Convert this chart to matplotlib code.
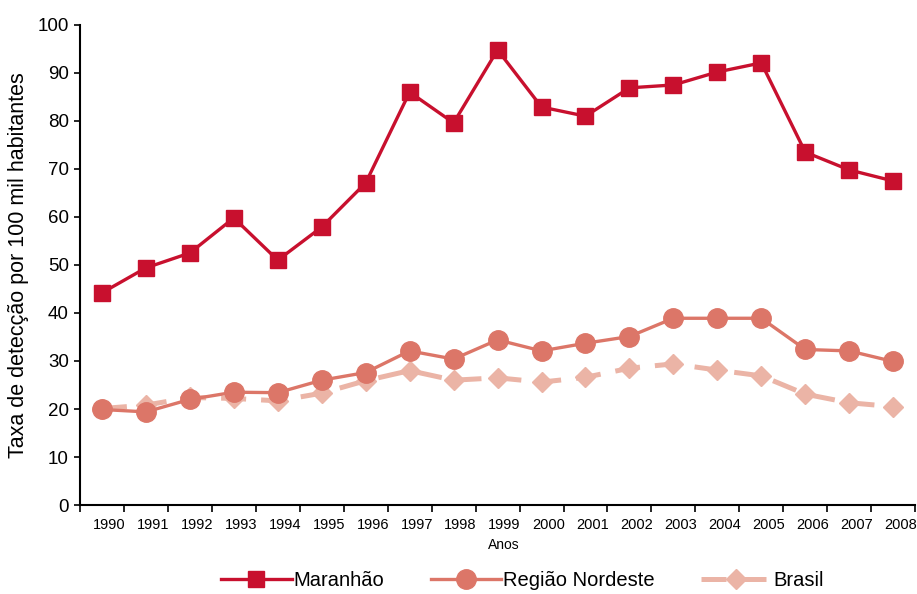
import matplotlib
matplotlib.use("Agg")
import matplotlib.pyplot as plt
import matplotlib.transforms as mtransforms
import numpy as np

plt.rcParams['font.family'] = ['Liberation Sans', 'DejaVu Sans']

anos = [str(a) for a in range(1990, 2009)]
maranhao = [44.2, 49.4, 52.5, 59.8, 51.0, 57.9, 67.1, 86.0, 79.6, 94.8,
            82.9, 81.0, 86.9, 87.5, 90.2, 92.1, 73.5, 69.8, 67.5]
nordeste = [19.9, 19.4, 22.0, 23.5, 23.4, 26.0, 27.6, 32.1, 30.4, 34.4,
            32.1, 33.7, 35.1, 38.9, 38.9, 38.9, 32.4, 32.1, 29.9]
brasil = [20.1, 20.8, 22.4, 22.2, 21.7, 23.3, 25.9, 28.0, 26.0, 26.5,
          25.6, 26.6, 28.5, 29.4, 28.1, 26.9, 23.1, 21.3, 20.5]

c_mar = '#C8102E'
c_ne = '#DC7668'
c_br = '#EBB4A6'

fig = plt.figure(figsize=(9.17, 5.94), dpi=100)
ax = fig.add_axes([0.0872, 0.1498, 0.9108, 0.8082])

x = np.arange(len(anos))
ax.plot(x, brasil, color=c_br, lw=3.6, dashes=(5, 3), marker='D', ms=10.5,
        mec=c_br, mfc=c_br, label='Brasil', zorder=2)
ax.plot(x, nordeste, color=c_ne, lw=2.4, marker='o', ms=14, mec=c_ne,
        mfc=c_ne, label='Região Nordeste', zorder=3)
ax.plot(x, maranhao, color=c_mar, lw=2.4, marker='s', ms=11.5, mec=c_mar,
        mfc=c_mar, label='Maranhão', zorder=4)

ax.set_xlim(-0.5, len(anos) - 0.5)
ax.set_ylim(0, 100)
ax.set_yticks(np.arange(0, 101, 10))
ax.tick_params(axis='y', direction='out', length=4, width=1.2, pad=4,
               labelsize=13.5)

ax.set_xticks(x)
ax.set_xticklabels(anos, fontsize=10.5)
ax.set_xticks(np.arange(-0.5, len(anos)), minor=True)
ax.tick_params(axis='x', which='major', length=0, pad=9)
ax.tick_params(axis='x', which='minor', direction='out', length=5, width=1.2)
shift = mtransforms.ScaledTranslation(7 / 100, 0, fig.dpi_scale_trans)
for lbl in ax.get_xticklabels():
    lbl.set_transform(lbl.get_transform() + shift)

for s in ['top', 'right']:
    ax.spines[s].set_visible(False)
for s in ['left', 'bottom']:
    ax.spines[s].set_linewidth(1.5)

ax.set_ylabel('Taxa de detecção por 100 mil habitantes', fontsize=15.5,
              labelpad=6)
fig.text(504 / 917, 1 - 545 / 594, 'Anos', ha='center', va='center',
         fontsize=10)

handles, labels = ax.get_legend_handles_labels()
order = [2, 1, 0]
fig.legend([handles[i] for i in order], [labels[i] for i in order],
           loc='center', bbox_to_anchor=(0.570, 0.022), ncol=3,
           frameon=False, fontsize=14.5, handlelength=3.5, handletextpad=0.1,
           columnspacing=2.3, borderpad=0.1)

fig.savefig('out.png', dpi=100)
